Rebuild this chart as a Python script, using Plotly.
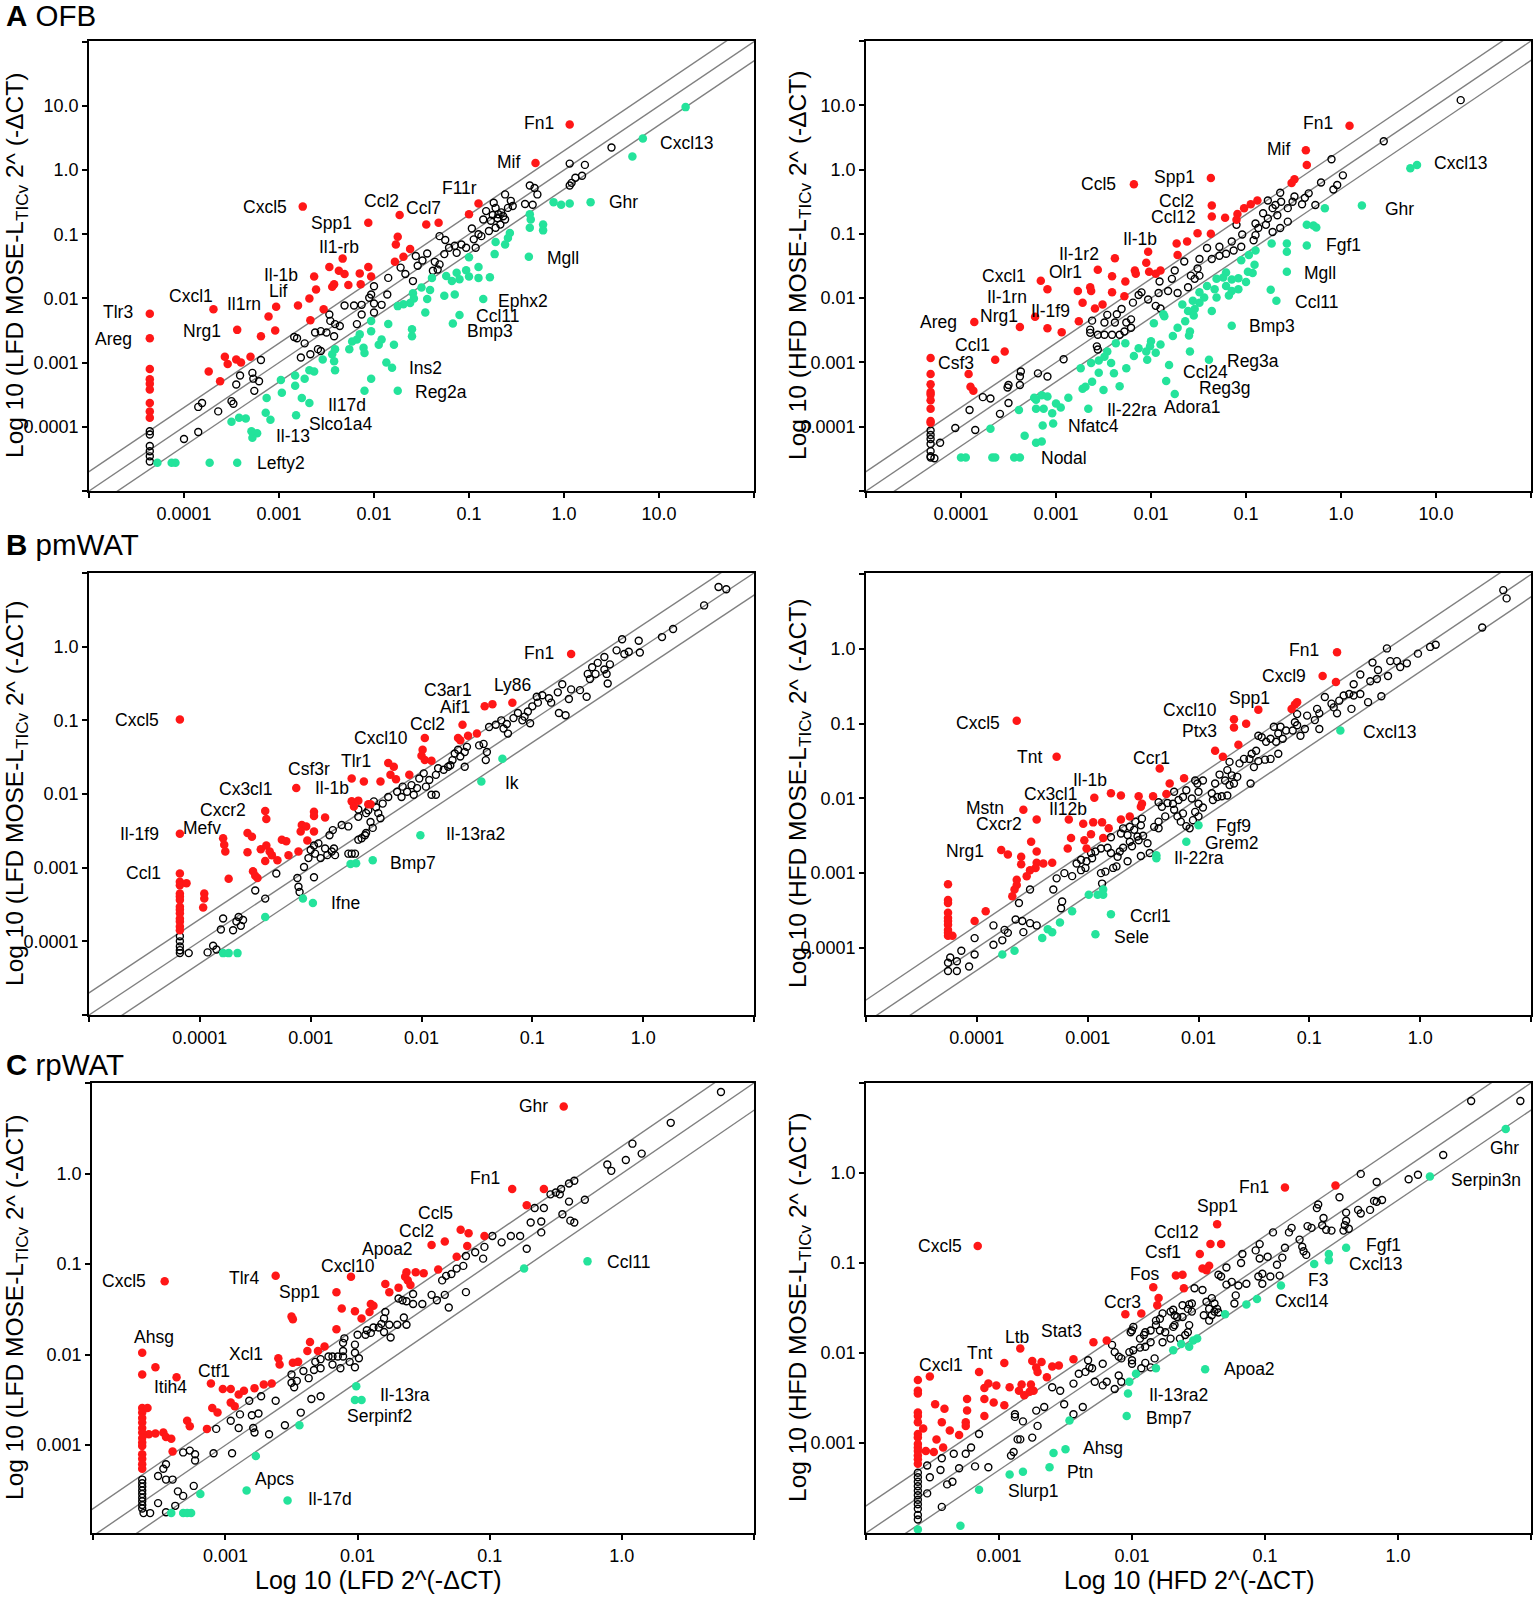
import math
import plotly.graph_objects as go

W, H = 1536, 1598
RED = "#ff1717"
GREEN = "#24e39b"
LINE = "#808080"
FONT = "Liberation Sans, Arial, sans-serif"

# ---- data: log10 values (x = LFD/HFD 2^-dCT, y = MOSE-L TICv) ----
# panel A left: OFB, LFD
a_lfd_up = [(0.06, 0.71), (-0.30, 0.11), (-0.90, -0.52), (-1.00, -0.69), (-1.32, -0.82), (-1.45, -0.85),
            (-1.73, -0.70), (-2.06, -0.82), (-2.75, -0.57), (-2.33, -1.38), (-1.75, -1.04), (-1.77, -1.16),
            (-1.62, -1.23), (-1.69, -1.35), (-1.78, -1.43), (-2.06, -1.51), (-2.15, -1.61), (-2.03, -1.66),
            (-2.14, -1.78), (-2.27, -1.79), (-2.31, -1.62), (-2.37, -1.57), (-2.47, -1.51), (-2.42, -1.78),
            (-2.44, -1.82), (-2.63, -1.66), (-2.61, -1.86), (-2.68, -2.00), (-2.80, -2.11), (-3.03, -2.13),
            (-3.11, -2.28), (-3.04, -2.50), (-3.19, -2.59), (-2.67, -2.34), (-2.53, -2.17), (-3.69, -2.17),
            (-3.44, -2.49), (-4.36, -2.24), (-4.36, -2.62), (-4.36, -3.10), (-4.36, -3.26), (-4.36, -3.33),
            (-4.36, -3.42), (-4.36, -3.63), (-4.36, -3.76), (-4.36, -3.86), (-3.57, -2.91), (-3.54, -3.02),
            (-3.45, -2.95), (-3.40, -3.00), (-3.30, -2.91), (-3.74, -3.14), (-3.62, -3.29)]
a_lfd_ns = [(-4.36, -4.07), (-4.36, -4.12), (-4.36, -4.30), (-4.36, -4.38), (-4.36, -4.46), (-4.36, -4.54),
            (-4.00, -4.19), (-3.85, -4.08), (-3.85, -3.69), (-3.81, -3.63), (-3.64, -3.76), (-3.50, -3.60),
            (-3.48, -3.64), (-3.45, -3.34), (-3.41, -3.20), (-3.28, -3.16), (-3.27, -3.25), (-3.21, -3.29),
            (-3.26, -3.44), (-3.19, -2.96), (-2.84, -2.60), (-2.81, -2.62), (-2.73, -2.70), (-2.77, -2.92),
            (-2.67, -2.87), (-2.59, -2.79), (-2.56, -2.82), (-2.62, -2.53), (-2.56, -2.51), (-2.50, -2.53),
            (-2.46, -2.35), (-2.41, -2.40), (-2.47, -2.25), (-2.36, -2.43), (-2.42, -2.59), (-2.31, -2.11),
            (-2.21, -2.11), (-2.13, -2.10), (-2.00, -2.08), (-1.92, -2.10), (-2.18, -2.40), (-2.13, -2.25),
            (-2.00, -2.22), (-2.05, -1.99), (-2.00, -1.81), (-2.03, -1.94), (-1.86, -1.94), (-1.85, -1.68),
            (-1.72, -1.52), (-1.67, -1.62), (-1.59, -1.73), (-1.54, -1.49), (-1.49, -1.41), (-1.44, -1.30),
            (-1.56, -1.34), (-1.36, -1.43), (-1.31, -1.47), (-1.33, -1.55), (-1.38, -1.57), (-1.31, -1.03),
            (-1.25, -1.09), (-1.26, -1.31), (-1.21, -1.21), (-1.15, -1.18), (-1.13, -1.29), (-1.08, -1.16),
            (-1.03, -1.21), (-0.97, -0.91), (-0.90, -1.00), (-0.95, -1.08), (-0.87, -1.03), (-0.93, -1.21),
            (-0.85, -0.77), (-0.82, -0.64), (-0.77, -0.79), (-0.72, -0.59), (-0.69, -0.69), (-0.74, -0.51),
            (-0.62, -0.38), (-0.59, -0.59), (-0.62, -0.77), (-0.56, -0.48), (-0.54, -0.56), (-0.66, -0.66),
            (-0.70, -0.75), (-0.64, -0.72), (-0.75, -0.70), (-0.41, -0.53), (-0.36, -0.24), (-0.33, -0.54),
            (-0.28, -0.38), (-0.31, -0.28), (-0.79, -0.95), (-0.72, -0.90), (-0.67, -0.85), (0.06, 0.10),
            (0.08, -0.20), (0.06, -0.24), (0.12, -0.12), (0.19, -0.09), (0.22, 0.08), (0.50, 0.35)]
a_lfd_down = [(1.28, 0.98), (0.83, 0.49), (0.72, 0.21), (0.28, -0.50), (0.06, -0.52), (-0.03, -0.54),
              (-0.11, -0.50), (-0.36, -0.69), (-0.35, -0.77), (-0.36, -0.90), (-0.22, -0.85), (-0.22, -0.94),
              (-0.57, -0.98), (-0.59, -1.06), (-0.72, -1.12), (-0.62, -1.16), (-0.73, -1.31), (-0.37, -1.35),
              (-1.00, -1.36), (-0.90, -1.51), (-1.03, -1.56), (-1.13, -1.60), (-1.00, -1.66), (-0.90, -1.68),
              (-0.78, -1.67), (-1.18, -1.73), (-1.10, -1.70), (-1.24, -1.65), (-1.39, -1.68), (-1.50, -1.83),
              (-1.41, -1.87), (-1.59, -1.92), (-1.26, -1.96), (-1.15, -1.94), (-1.44, -2.01), (-1.58, -2.00),
              (-1.62, -2.07), (-1.69, -2.09), (-1.75, -2.12), (-0.85, -2.01), (-1.10, -2.26), (-1.17, -2.39),
              (-1.46, -2.22), (-1.60, -2.48), (-1.60, -2.59), (-1.85, -2.40), (-2.03, -2.51), (-2.03, -2.35),
              (-1.95, -2.72), (-1.92, -2.64), (-1.79, -2.72), (-2.15, -2.56), (-2.18, -2.64), (-2.23, -2.67),
              (-2.26, -2.79), (-2.11, -2.77), (-2.10, -2.85), (-2.41, -2.79), (-2.44, -2.87), (-2.42, -2.98),
              (-2.41, -3.12), (-2.54, -2.95), (-1.81, -3.08), (-1.87, -3.00), (-1.75, -3.44), (-2.10, -3.44),
              (-2.03, -3.25), (-2.68, -3.12), (-2.63, -3.14), (-2.73, -3.25), (-2.83, -3.20), (-2.83, -3.36),
              (-2.98, -3.27), (-2.97, -3.47), (-3.13, -3.55), (-2.68, -3.63), (-2.76, -3.55), (-2.82, -3.82),
              (-3.14, -3.78), (-3.09, -3.89), (-3.35, -3.87), (-3.42, -3.86), (-3.50, -3.92), (-3.23, -4.10),
              (-3.28, -4.17), (-3.29, -4.07), (-4.28, -4.56), (-4.13, -4.56), (-4.09, -4.56), (-3.73, -4.56),
              (-3.44, -4.56)]
a_lfd_labels = [("Fn1", 0.06, 0.71, "right", -7, 1), ("Cxcl13", 0.83, 0.49, "left", 8, -4),
                ("Mif", -0.30, 0.11, "right", -7, 1), ("Ghr", 0.28, -0.50, "left", 9, 0),
                ("F11r", -0.90, -0.52, "right", 7, 15), ("Ccl7", -1.32, -0.82, "right", 11, 15),
                ("Ccl2", -1.73, -0.70, "right", 8, 14), ("Spp1", -2.06, -0.82, "right", -7, 0),
                ("Cxcl5", -2.75, -0.57, "right", -7, 0), ("Il1-rb", -2.33, -1.38, "center", -4, 12),
                ("Il-1b", -2.63, -1.66, "right", -7, 2), ("Lif", -2.80, -2.11, "right", -1, 14),
                ("Il1rn", -3.03, -2.13, "right", -6, 3), ("Cxcl1", -3.69, -2.17, "right", 9, 13),
                ("Nrg1", -3.44, -2.49, "right", -7, -1), ("Tlr3", -4.36, -2.24, "right", -8, 2),
                ("Areg", -4.36, -2.62, "right", -9, -1), ("Ephx2", -0.85, -2.01, "left", 6, -2),
                ("Ccl11", -1.10, -2.26, "left", 7, -1), ("Bmp3", -1.17, -2.39, "left", 5, -8),
                ("Mgll", -0.37, -1.35, "left", 9, -1), ("Ins2", -1.81, -3.08, "left", 8, 0),
                ("Reg2a", -1.75, -3.44, "left", 8, -1), ("Il17d", -2.68, -3.63, "left", 10, -2),
                ("Slco1a4", -2.82, -3.82, "left", 4, -9), ("Il-13", -3.23, -4.10, "left", 10, -3),
                ("Lefty2", -3.44, -4.56, "left", 11, 0)]

# panel A right: OFB, HFD
a_hfd_up = [(0.09, 0.68), (-0.37, 0.30), (-0.36, 0.07), (-2.18, -0.23), (-1.37, -0.13), (-1.36, -0.56),
            (-1.36, -0.73), (-1.22, -0.75), (-1.09, -0.69), (-1.10, -0.78), (-0.52, -0.21), (-0.49, -0.15),
            (-1.02, -0.60), (-0.95, -0.54), (-0.88, -0.48), (-1.51, -0.99), (-1.37, -1.00), (-1.62, -1.12),
            (-1.73, -1.15), (-1.72, -1.33), (-2.03, -1.28), (-2.05, -1.45), (-2.02, -1.59), (-1.90, -1.57),
            (-1.95, -1.62), (-2.38, -1.38), (-2.56, -1.56), (-2.41, -1.66), (-2.27, -1.74), (-2.17, -1.57),
            (-2.16, -1.62), (-3.16, -1.73), (-3.09, -1.86), (-2.77, -1.89), (-2.64, -1.83), (-2.63, -1.89),
            (-2.41, -1.91), (-2.28, -1.97), (-2.72, -2.07), (-2.51, -2.10), (-2.59, -2.16), (-3.22, -2.29),
            (-3.38, -2.45), (-2.76, -2.36), (-3.09, -2.47), (-2.94, -2.53), (-3.86, -2.37), (-3.54, -2.83),
            (-3.64, -2.96), (-3.92, -3.18), (-3.90, -3.38), (-3.87, -3.44), (-4.32, -2.93), (-4.32, -3.18),
            (-4.32, -3.34), (-4.32, -3.46), (-4.32, -3.50), (-4.32, -3.59), (-4.32, -3.72), (-4.32, -3.91),
            (-4.32, -3.94)]
a_hfd_ns = [(1.26, 1.08), (0.45, 0.44), (-0.10, 0.16), (0.02, -0.09), (-0.04, -0.24), (-0.08, -0.31),
            (-0.21, -0.20), (-0.34, -0.37), (-0.38, -0.44), (-0.41, -0.54), (-0.27, -0.55), (-0.49, -0.42),
            (-0.51, -0.50), (-0.56, -0.60), (-0.64, -0.36), (-0.63, -0.50), (-0.72, -0.60), (-0.67, -0.71),
            (-0.77, -0.76), (-0.82, -0.68), (-0.79, -0.86), (-0.87, -0.91), (-0.56, -0.81), (-0.72, -0.97),
            (-0.64, -0.91), (-0.77, -0.48), (-0.69, -0.55), (-0.90, -0.84), (-0.90, -1.02), (-0.92, -1.10),
            (-1.04, -1.01), (-1.10, -0.86), (-1.15, -1.12), (-1.05, -1.20), (-1.13, -1.26), (-1.21, -1.31),
            (-1.28, -1.20), (-1.28, -1.34), (-1.41, -1.22), (-1.36, -1.39), (-1.49, -1.39), (-1.51, -1.54),
            (-1.58, -1.65), (-1.54, -1.70), (-1.49, -1.65), (-1.65, -1.43), (-1.75, -1.57), (-1.78, -1.70),
            (-1.61, -1.83), (-1.72, -1.92), (-1.91, -1.74), (-1.92, -1.92), (-1.82, -1.89), (-1.95, -2.12),
            (-1.90, -2.16), (-2.13, -1.95), (-2.10, -1.91), (-2.03, -2.02), (-2.19, -2.07), (-2.31, -2.17),
            (-2.46, -2.26), (-2.36, -2.25), (-2.49, -2.38), (-2.38, -2.38), (-2.26, -2.38), (-2.21, -2.33),
            (-2.62, -2.35), (-2.64, -2.49), (-2.64, -2.54), (-2.56, -2.57), (-2.49, -2.57), (-2.41, -2.57),
            (-2.33, -2.57), (-2.28, -2.52), (-2.21, -2.46), (-2.57, -2.75), (-2.56, -2.80), (-2.92, -2.95),
            (-3.19, -3.17), (-3.09, -3.22), (-3.37, -3.14), (-3.38, -3.22), (-3.38, -3.35), (-3.50, -3.35),
            (-3.51, -3.39), (-3.77, -3.54), (-3.69, -3.56), (-3.91, -3.74), (-3.50, -3.63), (-3.59, -3.80),
            (-4.06, -4.02), (-3.85, -4.05), (-4.22, -4.25), (-4.32, -4.06), (-4.32, -4.13), (-4.32, -4.19),
            (-4.32, -4.27), (-4.32, -4.38), (-4.32, -4.46), (-4.32, -4.48), (-4.28, -4.49)]
a_hfd_down = [(0.73, 0.02), (0.80, 0.07), (0.22, -0.56), (-0.17, -0.60), (-0.36, -0.86), (-0.29, -0.87),
              (-0.26, -0.90), (-0.36, -1.18), (-0.57, -1.15), (-0.57, -1.28), (-0.73, -1.15), (-0.57, -1.59),
              (-0.68, -2.04), (-0.74, -1.87), (-0.90, -1.26), (-0.91, -1.48), (-0.97, -1.33), (-1.05, -1.41),
              (-0.98, -1.59), (-0.93, -1.61), (-1.00, -1.75), (-1.21, -1.60), (-1.15, -1.71), (-1.08, -1.69),
              (-1.24, -1.68), (-1.31, -1.70), (-1.21, -1.81), (-1.33, -1.86), (-1.15, -1.89), (-1.08, -1.86),
              (-1.18, -1.96), (-1.41, -1.81), (-1.49, -1.91), (-1.44, -1.99), (-1.31, -1.99), (-1.49, -2.07),
              (-1.56, -2.04), (-1.54, -2.17), (-1.61, -2.20), (-1.64, -2.36), (-1.67, -2.10), (-1.55, -2.27),
              (-1.36, -2.20), (-1.15, -2.43), (-1.87, -2.25), (-1.86, -2.28), (-1.97, -2.39), (-1.72, -2.46),
              (-1.59, -2.52), (-1.60, -2.58), (-1.77, -2.59), (-1.90, -2.72), (-2.00, -2.67), (-2.01, -2.75),
              (-2.05, -2.83), (-2.04, -2.96), (-1.95, -2.85), (-1.39, -2.96), (-1.59, -2.83), (-1.81, -3.04),
              (-1.84, -3.29), (-1.75, -3.49), (-2.13, -2.78), (-2.18, -2.90), (-2.26, -3.09), (-2.37, -2.70),
              (-2.27, -2.70), (-2.46, -2.83), (-2.49, -2.91), (-2.42, -3.01), (-2.39, -3.17), (-2.55, -2.97),
              (-2.55, -3.16), (-2.63, -3.01), (-2.62, -3.30), (-2.50, -3.43), (-2.33, -3.37), (-2.72, -3.41),
              (-2.69, -3.38), (-2.74, -3.09), (-2.66, -3.72), (-2.87, -3.55), (-2.95, -3.70), (-3.00, -3.64),
              (-3.09, -3.53), (-3.15, -3.51), (-3.21, -3.58), (-3.23, -3.55), (-3.13, -3.72), (-3.04, -3.79),
              (-3.21, -3.72), (-3.39, -3.74), (-3.03, -3.95), (-3.14, -3.98), (-3.69, -4.03), (-3.33, -4.14),
              (-3.21, -4.25), (-3.15, -4.23), (-4.00, -4.48), (-3.95, -4.48), (-3.67, -4.48), (-3.64, -4.48),
              (-3.44, -4.48), (-3.38, -4.48)]
a_hfd_labels = [("Fn1", 0.09, 0.68, "right", -8, 3), ("Mif", -0.37, 0.30, "right", -7, 1),
                ("Cxcl13", 0.80, 0.07, "left", 8, 2), ("Ghr", 0.22, -0.56, "left", 14, -3),
                ("Ccl5", -2.18, -0.23, "right", -9, 0), ("Spp1", -1.37, -0.13, "right", -7, 1),
                ("Ccl2", -1.36, -0.56, "right", -9, 5), ("Ccl12", -1.36, -0.73, "right", -7, -1),
                ("Fgf1", -0.36, -1.18, "left", 10, 0), ("Il-1b", -2.03, -1.28, "center", -8, 13),
                ("Il-1r2", -2.38, -1.38, "right", -7, 4), ("Olr1", -2.56, -1.56, "right", -7, -2),
                ("Mgll", -0.57, -1.59, "left", 8, -1), ("Cxcl1", -3.16, -1.73, "right", -6, 5),
                ("Il-1rn", -3.09, -1.86, "right", -11, -8), ("Ccl11", -0.68, -2.04, "left", 10, -1),
                ("Nrg1", -3.22, -2.29, "right", -8, 1), ("Il-1f9", -2.76, -2.36, "right", 0, 10),
                ("Areg", -3.86, -2.37, "right", -8, 0), ("Bmp3", -1.15, -2.43, "left", 8, 0),
                ("Ccl1", -3.54, -2.83, "right", -6, 6), ("Csf3", -3.64, -2.96, "right", -12, -3),
                ("Reg3a", -1.39, -2.96, "left", 9, -1), ("Ccl24", -1.81, -3.04, "left", 5, -7),
                ("Reg3g", -1.84, -3.29, "left", 24, -7), ("Adora1", -1.75, -3.49, "center", 17, -13),
                ("Il-22ra", -2.66, -3.72, "left", 10, -1), ("Nfatc4", -3.03, -3.95, "left", 6, -3),
                ("Nodal", -3.38, -4.48, "left", 12, 0)]

# panel B left: pmWAT, LFD
b_lfd_up = [(-0.65, -0.10), (-1.18, -0.76), (-1.36, -0.78), (-1.43, -0.81), (-1.63, -1.06), (-1.58, -1.21),
            (-1.50, -1.18), (-1.67, -1.24), (-1.65, -1.27), (-1.97, -1.24), (-1.99, -1.40), (-2.00, -1.48),
            (-1.97, -1.54), (-1.91, -1.55), (-2.30, -1.58), (-2.25, -1.63), (-2.28, -1.74), (-2.23, -1.80),
            (-2.11, -1.74), (-2.63, -1.79), (-2.52, -1.83), (-2.37, -1.83), (-3.13, -1.92), (-2.63, -2.10),
            (-2.61, -2.17), (-2.57, -2.09), (-2.48, -2.14), (-2.46, -2.14), (-3.41, -2.23), (-3.40, -2.34),
            (-2.97, -2.24), (-2.97, -2.30), (-2.87, -2.32), (-3.08, -2.42), (-3.04, -2.44), (-3.09, -2.51),
            (-2.97, -2.51), (-3.03, -2.63), (-3.11, -2.78), (-3.20, -2.83), (-4.18, -2.54), (-3.79, -2.60),
            (-3.78, -2.69), (-3.77, -2.78), (-3.57, -2.53), (-3.53, -2.58), (-3.57, -2.79), (-3.45, -2.75),
            (-3.40, -2.70), (-3.37, -2.78), (-3.35, -2.83), (-3.30, -2.90), (-3.41, -2.91), (-3.26, -2.62),
            (-3.22, -2.64), (-3.52, -3.05), (-3.50, -3.11), (-3.48, -3.14), (-3.74, -3.15), (-4.18, -0.99),
            (-4.18, -3.08), (-4.18, -3.19), (-4.18, -3.24), (-4.18, -3.35), (-4.18, -3.39), (-4.18, -3.44),
            (-4.18, -3.53), (-4.18, -3.57), (-4.18, -3.62), (-4.18, -3.69), (-4.18, -3.73), (-4.18, -3.80),
            (-4.18, -3.85), (-4.12, -3.21), (-3.96, -3.35), (-3.96, -3.42), (-3.97, -3.54)]
b_lfd_ns = [(0.68, 0.81), (0.75, 0.78), (0.55, 0.56), (0.27, 0.24), (0.17, 0.13), (-0.19, 0.10), (-0.04, 0.08),
            (-0.03, -0.08), (-0.24, -0.05), (-0.17, -0.10), (-0.13, -0.07), (-0.35, -0.14), (-0.41, -0.22),
            (-0.46, -0.28), (-0.30, -0.24), (-0.35, -0.31), (-0.43, -0.37), (-0.50, -0.37), (-0.48, -0.44),
            (-0.33, -0.37), (-0.32, -0.50), (-0.51, -0.68), (-0.57, -0.59), (-0.65, -0.58), (-0.73, -0.51),
            (-0.77, -0.62), (-0.67, -0.71), (-0.85, -0.70), (-0.91, -0.66), (-0.96, -0.68), (-0.95, -0.76),
            (-0.83, -0.76), (-0.76, -0.90), (-0.70, -0.93), (-1.00, -0.81), (-1.04, -0.88), (-1.07, -0.95),
            (-1.09, -1.00), (-1.02, -1.04), (-1.13, -0.90), (-1.17, -0.97), (-1.23, -1.05), (-1.26, -1.11),
            (-1.28, -1.00), (-1.22, -1.18), (-1.33, -1.06), (-1.39, -1.09), (-1.44, -1.32), (-1.41, -1.43),
            (-1.42, -1.54), (-1.48, -1.34), (-1.59, -1.36), (-1.61, -1.43), (-1.65, -1.49), (-1.70, -1.45),
            (-1.72, -1.54), (-1.76, -1.63), (-1.80, -1.67), (-1.67, -1.40), (-1.61, -1.63), (-1.74, -1.61),
            (-1.85, -1.65), (-1.87, -1.74), (-1.93, -1.81), (-1.98, -1.72), (-2.02, -1.79), (-1.96, -1.90),
            (-1.91, -2.01), (-1.87, -2.01), (-2.09, -1.88), (-2.13, -1.97), (-2.18, -2.04), (-2.22, -1.97),
            (-2.07, -2.01), (-2.17, -1.90), (-2.04, -1.92), (-2.30, -2.04), (-2.35, -2.13), (-2.41, -2.18),
            (-2.43, -2.10), (-2.39, -2.26), (-2.37, -2.33), (-2.46, -2.38), (-2.50, -2.26), (-2.48, -2.22),
            (-2.57, -2.21), (-2.57, -2.31), (-2.57, -2.62), (-2.54, -2.60), (-2.50, -2.53), (-2.66, -2.44),
            (-2.72, -2.42), (-2.80, -2.49), (-2.83, -2.56), (-2.44, -2.46), (-2.51, -2.56), (-2.87, -2.74),
            (-2.79, -2.74), (-2.81, -2.78), (-2.78, -2.83), (-2.85, -2.83), (-2.91, -2.87), (-2.96, -2.81),
            (-3.00, -2.76), (-2.97, -2.70), (-2.93, -2.67), (-3.02, -2.87), (-3.06, -2.99), (-2.66, -2.81),
            (-2.63, -2.81), (-2.60, -2.81), (-3.31, -3.08), (-3.12, -3.14), (-3.11, -3.26), (-3.10, -3.33),
            (-2.97, -3.13), (-3.41, -3.42), (-3.50, -3.31), (-3.79, -3.69), (-3.81, -3.84), (-3.70, -3.85),
            (-3.67, -3.73), (-3.65, -3.67), (-3.63, -3.79), (-3.61, -3.71), (-3.88, -4.06), (-3.93, -4.15),
            (-3.85, -4.11), (-4.10, -4.16), (-4.18, -3.93), (-4.18, -4.00), (-4.18, -4.07), (-4.18, -4.12),
            (-4.18, -4.16)]
b_lfd_down = [(-1.27, -1.52), (-1.46, -1.83), (-2.01, -2.56), (-2.44, -2.90), (-2.59, -2.94), (-2.64, -2.95),
              (-2.98, -3.48), (-3.07, -3.42), (-3.41, -3.67), (-3.79, -4.16), (-3.74, -4.16), (-3.66, -4.16)]
b_lfd_labels = [("Fn1", -0.65, -0.10, "right", -8, 1), ("Ly86", -1.18, -0.76, "center", 0, 18),
                ("C3ar1", -1.36, -0.78, "right", -11, 14), ("Aif1", -1.43, -0.81, "right", -6, -1),
                ("Ccl2", -1.63, -1.06, "right", -9, 1), ("Cxcl10", -1.97, -1.24, "right", -8, 0),
                ("Tlr1", -2.30, -1.58, "right", -8, 2), ("Csf3r", -2.63, -1.79, "right", -13, 10),
                ("Il-1b", -2.52, -1.83, "right", -6, -7), ("Cx3cl1", -3.13, -1.92, "right", -14, -1),
                ("Cxcr2", -3.41, -2.23, "right", -10, 1), ("Il-1f9", -4.18, -2.54, "right", -12, 0),
                ("Mefv", -3.79, -2.60, "right", 7, 10), ("Cxcl5", -4.18, -0.99, "right", -12, 0),
                ("Ccl1", -4.18, -3.08, "right", -10, 1), ("Ik", -1.46, -1.83, "left", 15, -2),
                ("Il-13ra2", -2.01, -2.56, "left", 17, 1), ("Bmp7", -2.44, -2.90, "left", 8, -3),
                ("Ifne", -2.98, -3.48, "left", 9, 0)]

# panel B right: pmWAT, HFD
b_hfd_up = [(-0.75, -0.04), (-0.88, -0.36), (-0.76, -0.44), (-1.46, -0.81), (-1.11, -0.71), (-1.13, -0.74),
            (-1.16, -0.80), (-1.68, -0.94), (-1.68, -1.05), (-1.57, -1.00), (-1.64, -1.28), (-1.85, -1.36),
            (-1.78, -1.44), (-3.64, -0.96), (-3.28, -1.44), (-2.35, -1.60), (-2.13, -1.73), (-2.26, -1.80),
            (-2.29, -1.94), (-2.41, -1.97), (-2.54, -1.97), (-2.70, -1.96), (-2.79, -1.93), (-2.94, -1.99),
            (-2.51, -2.07), (-2.52, -2.11), (-3.58, -2.15), (-3.46, -2.28), (-3.17, -2.28), (-3.04, -2.34),
            (-2.95, -2.32), (-2.87, -2.32), (-2.81, -2.40), (-2.70, -2.28), (-2.62, -2.24), (-2.97, -2.48),
            (-3.15, -2.53), (-3.03, -2.56), (-2.86, -2.53), (-3.18, -2.67), (-3.01, -2.67), (-3.51, -2.58),
            (-3.46, -2.71), (-3.78, -2.69), (-3.72, -2.75), (-3.60, -2.78), (-3.60, -2.88), (-3.46, -2.86),
            (-3.47, -2.93), (-3.52, -2.96), (-3.32, -2.86), (-3.40, -2.87), (-3.55, -3.04), (-3.64, -3.09),
            (-3.64, -3.16), (-3.66, -3.22), (-3.68, -3.31), (-3.92, -3.51), (-4.02, -3.64), (-4.26, -3.15),
            (-4.26, -3.36), (-4.26, -3.40), (-4.26, -3.53), (-4.26, -3.60), (-4.26, -3.64), (-4.26, -3.69),
            (-4.26, -3.76), (-4.26, -3.80), (-4.26, -3.84), (-4.22, -3.84)]
b_hfd_ns = [(0.75, 0.79), (0.78, 0.68), (0.56, 0.29), (0.14, 0.06), (0.09, 0.03), (-0.02, -0.06), (-0.30, 0.01),
            (-0.43, -0.18), (-0.27, -0.16), (-0.21, -0.16), (-0.18, -0.24), (-0.12, -0.19), (-0.38, -0.28),
            (-0.29, -0.36), (-0.35, -0.63), (-0.54, -0.34), (-0.45, -0.43), (-0.39, -0.40), (-0.47, -0.71),
            (-0.60, -0.47), (-0.69, -0.62), (-0.64, -0.60), (-0.60, -0.62), (-0.54, -0.60), (-0.73, -0.69),
            (-0.80, -0.73), (-0.78, -0.78), (-0.75, -0.86), (-0.62, -0.80), (-0.86, -0.64), (-0.93, -0.80),
            (-0.91, -0.86), (-0.95, -0.95), (-1.02, -0.89), (-1.04, -1.07), (-1.11, -1.02), (-1.13, -0.98),
            (-1.11, -0.87), (-1.08, -1.16), (-1.15, -1.09), (-0.91, -1.07), (-1.21, -1.09), (-1.26, -1.04),
            (-1.24, -1.20), (-1.28, -1.13), (-1.32, -1.04), (-1.30, -1.24), (-1.35, -1.20), (-1.39, -1.24),
            (-1.43, -1.18), (-1.46, -1.16), (-1.28, -1.40), (-1.35, -1.47), (-1.40, -1.48), (-1.46, -1.50),
            (-1.50, -1.58), (-1.53, -1.80), (-1.48, -1.36), (-1.52, -1.40), (-1.59, -1.47), (-1.63, -1.53),
            (-1.54, -1.47), (-1.72, -1.51), (-1.74, -1.62), (-1.70, -1.69), (-1.65, -1.71), (-1.68, -1.80),
            (-1.72, -1.82), (-1.81, -1.68), (-1.76, -1.76), (-1.85, -1.80), (-1.88, -1.93), (-1.83, -1.98),
            (-1.79, -1.97), (-1.74, -1.96), (-1.87, -2.02), (-1.96, -1.76), (-2.03, -1.76), (-2.01, -1.80),
            (-2.00, -1.91), (-2.06, -2.00), (-2.00, -2.07), (-1.96, -2.12), (-2.03, -2.18), (-2.00, -2.24),
            (-2.05, -2.29), (-2.11, -1.89), (-2.14, -1.98), (-2.18, -2.02), (-2.22, -1.91), (-2.23, -2.07),
            (-2.14, -2.20), (-2.19, -2.24), (-2.16, -2.31), (-2.11, -2.37), (-2.08, -2.40), (-2.28, -2.06),
            (-2.33, -2.11), (-2.36, -2.05), (-2.22, -2.15), (-2.30, -2.24), (-2.36, -2.31), (-2.40, -2.38),
            (-2.36, -2.40), (-2.51, -2.27), (-2.57, -2.31), (-2.52, -2.36), (-2.62, -2.38), (-2.58, -2.42),
            (-2.68, -2.40), (-2.70, -2.47), (-2.64, -2.49), (-2.55, -2.51), (-2.50, -2.50), (-2.46, -2.60),
            (-2.54, -2.56), (-2.62, -2.58), (-2.60, -2.64), (-2.68, -2.66), (-2.71, -2.71), (-2.73, -2.78),
            (-2.64, -2.84), (-2.52, -2.77), (-2.44, -2.73), (-2.79, -2.52), (-2.82, -2.66), (-2.79, -2.73),
            (-2.77, -2.93), (-2.74, -2.91), (-2.84, -2.98), (-2.88, -3.00), (-2.87, -3.14), (-2.88, -2.67),
            (-2.93, -2.71), (-2.97, -2.73), (-2.96, -2.80), (-3.01, -2.84), (-3.06, -2.82), (-3.10, -2.87),
            (-3.02, -2.93), (-3.06, -2.96), (-3.14, -3.04), (-3.21, -3.00), (-3.28, -3.07), (-3.31, -3.22),
            (-3.23, -3.38), (-3.24, -3.47), (-3.52, -3.22), (-3.62, -3.40), (-3.65, -3.62), (-3.59, -3.64),
            (-3.52, -3.67), (-3.46, -3.70), (-3.58, -3.79), (-3.72, -3.80), (-3.75, -3.76), (-3.85, -3.70),
            (-3.85, -3.96), (-3.77, -3.90), (-4.02, -3.87), (-4.02, -4.09), (-4.14, -4.04), (-4.18, -4.18),
            (-4.24, -4.13), (-4.26, -4.20), (-4.26, -4.31), (-4.18, -4.31), (-4.07, -4.25)]
b_hfd_down = [(-0.72, -1.09), (-2.00, -2.36), (-2.11, -2.58), (-2.38, -2.76), (-2.38, -2.80), (-2.86, -3.22),
              (-2.86, -3.29), (-2.91, -3.29), (-2.99, -3.29), (-2.79, -3.55), (-2.93, -3.82), (-3.14, -3.51),
              (-3.25, -3.66), (-3.36, -3.75), (-3.32, -3.79), (-3.41, -3.87), (-3.66, -4.04), (-3.77, -4.09)]
b_hfd_labels = [("Fn1", -0.75, -0.04, "right", -9, 2), ("Cxcl9", -0.88, -0.36, "right", -8, 0),
                ("Spp1", -1.46, -0.81, "center", -9, 12), ("Cxcl10", -1.68, -0.94, "right", -8, 9),
                ("Ptx3", -1.68, -1.05, "right", -8, -3), ("Cxcl13", -0.72, -1.09, "left", 14, -1),
                ("Cxcl5", -3.64, -0.96, "right", -8, -2), ("Tnt", -3.28, -1.44, "right", -6, 0),
                ("Ccr1", -2.35, -1.60, "center", -8, 11), ("Il-1b", -2.79, -1.93, "right", 5, 13),
                ("Cx3cl1", -2.94, -1.99, "right", -7, 4), ("Il12b", -3.17, -2.28, "center", -1, 10),
                ("Mstn", -3.58, -2.15, "right", -10, 2), ("Cxcr2", -3.46, -2.28, "right", -6, -5),
                ("Nrg1", -3.78, -2.69, "right", -8, -1), ("Fgf9", -2.00, -2.36, "left", 8, -1),
                ("Grem2", -2.11, -2.58, "left", 10, -1), ("Il-22ra", -2.38, -2.80, "left", 9, 0),
                ("Ccrl1", -2.79, -3.55, "left", 10, -2), ("Sele", -2.93, -3.82, "left", 10, -3)]

# panel C left: rpWAT, LFD
c_lfd_up = [(-0.44, 0.74), (-0.83, -0.17), (-0.59, -0.17), (-0.72, -0.35), (-1.22, -0.62), (-1.16, -0.66),
            (-1.34, -0.75), (-1.44, -0.79), (-1.17, -0.80), (-1.04, -0.69), (-1.25, -0.92), (-1.39, -1.06),
            (-1.56, -1.09), (-1.50, -1.10), (-1.63, -1.09), (-1.64, -1.14), (-1.62, -1.18), (-1.60, -1.23),
            (-1.69, -1.26), (-1.79, -1.22), (-1.76, -1.31), (-2.05, -1.14), (-2.62, -1.13), (-2.16, -1.31),
            (-3.46, -1.19), (-1.90, -1.44), (-1.88, -1.46), (-2.02, -1.52), (-1.91, -1.53), (-2.12, -1.49),
            (-1.97, -1.60), (-2.16, -1.72), (-2.50, -1.58), (-2.49, -1.61), (-2.36, -1.86), (-2.38, -1.96),
            (-2.30, -1.96), (-2.25, -1.91), (-2.60, -2.04), (-2.59, -2.11), (-2.49, -2.09), (-2.45, -2.08),
            (-3.63, -1.98), (-3.63, -2.22), (-3.53, -2.14), (-3.37, -2.25), (-3.11, -2.32), (-3.02, -2.38),
            (-2.96, -2.38), (-2.90, -2.44), (-2.86, -2.40), (-2.78, -2.37), (-2.71, -2.33), (-2.65, -2.32),
            (-3.10, -2.59), (-3.06, -2.64), (-2.96, -2.53), (-2.93, -2.57), (-3.29, -2.73), (-3.27, -2.79),
            (-3.14, -2.82), (-3.58, -2.88), (-3.53, -2.87), (-3.47, -2.86), (-3.45, -2.91), (-3.41, -2.93),
            (-3.40, -3.07), (-3.63, -2.59), (-3.63, -2.64), (-3.63, -2.70), (-3.63, -2.75), (-3.63, -2.81),
            (-3.63, -2.86), (-3.63, -2.92), (-3.63, -2.97), (-3.63, -3.01), (-3.63, -3.10), (-3.63, -3.15),
            (-3.63, -3.21), (-3.63, -3.26), (-3.59, -2.59)]
c_lfd_ns = [(0.75, 0.90), (0.37, 0.56), (0.08, 0.33), (0.15, 0.22), (0.03, 0.15), (-0.11, 0.10), (-0.08, 0.03),
            (-0.28, -0.29), (-0.36, -0.54), (-0.39, -0.52), (-0.45, -0.45), (-0.36, -0.08), (-0.40, -0.11),
            (-0.46, -0.17), (-0.50, -0.21), (-0.54, -0.23), (-0.40, -0.31), (-0.47, -0.23), (-0.59, -0.38),
            (-0.66, -0.38), (-0.69, -0.54), (-0.61, -0.53), (-0.61, -0.65), (-0.77, -0.69), (-0.84, -0.69),
            (-0.72, -0.83), (-0.98, -0.69), (-0.91, -0.76), (-1.04, -0.81), (-1.05, -0.94), (-1.11, -0.87),
            (-1.18, -0.91), (-1.20, -1.02), (-1.25, -1.05), (-1.29, -1.11), (-1.33, -1.13), (-1.36, -1.18),
            (-1.18, -1.31), (-1.34, -1.34), (-1.31, -1.48), (-1.40, -1.40), (-1.44, -1.34), (-1.51, -1.44),
            (-1.58, -1.33), (-1.58, -1.44), (-1.63, -1.41), (-1.66, -1.40), (-1.69, -1.38), (-1.63, -1.67),
            (-1.65, -1.59), (-1.70, -1.67), (-1.76, -1.67), (-1.82, -1.66), (-1.80, -1.60), (-1.79, -1.53),
            (-1.75, -1.81), (-1.84, -1.70), (-1.88, -1.70), (-1.90, -1.76), (-1.93, -1.73), (-1.94, -1.78),
            (-2.00, -1.78), (-1.80, -1.75), (-2.10, -1.82), (-2.11, -1.87), (-2.02, -1.89), (-2.11, -1.96),
            (-2.02, -1.98), (-2.11, -2.02), (-1.99, -2.04), (-2.06, -2.08), (-2.02, -2.14), (-2.13, -2.15),
            (-2.19, -2.11), (-2.15, -2.02), (-2.19, -2.02), (-2.22, -2.02), (-2.28, -2.05), (-2.32, -2.08),
            (-2.28, -2.15), (-2.33, -2.17), (-2.37, -2.26), (-2.41, -2.18), (-2.46, -2.29), (-2.50, -2.22),
            (-2.50, -2.31), (-2.48, -2.36), (-2.28, -2.46), (-2.35, -2.49), (-2.43, -2.64), (-2.55, -2.78),
            (-2.67, -2.88), (-2.62, -2.51), (-2.73, -2.46), (-2.82, -2.51), (-2.75, -2.65), (-2.80, -2.67),
            (-2.89, -2.66), (-2.79, -2.81), (-2.78, -2.86), (-2.96, -2.73), (-2.90, -2.81), (-3.07, -2.82),
            (-3.32, -3.08), (-3.27, -3.06), (-3.23, -3.10), (-3.23, -3.17), (-3.09, -3.09), (-2.95, -3.09),
            (-3.45, -3.21), (-3.47, -3.26), (-3.51, -3.34), (-3.45, -3.38), (-3.40, -3.38), (-3.24, -3.45),
            (-3.36, -3.51), (-3.32, -3.56), (-3.51, -3.64), (-3.45, -3.74), (-3.57, -3.75), (-3.62, -3.75),
            (-3.38, -3.67), (-3.63, -3.38), (-3.63, -3.42), (-3.63, -3.46), (-3.63, -3.50), (-3.63, -3.54),
            (-3.63, -3.58), (-3.63, -3.62), (-3.63, -3.66), (-3.63, -3.70)]
c_lfd_down = [(-0.26, -0.97), (-0.74, -1.05), (-2.01, -2.35), (-2.02, -2.50), (-1.97, -2.50), (-2.44, -2.78),
              (-2.77, -3.12), (-2.84, -3.50), (-2.53, -3.61), (-3.19, -3.54), (-3.41, -3.75), (-3.32, -3.75),
              (-3.29, -3.75), (-3.26, -3.75)]
c_lfd_labels = [("Ghr", -0.44, 0.74, "right", -7, 1), ("Fn1", -0.83, -0.17, "right", -3, 11),
                ("Ccl5", -1.22, -0.62, "right", 1, 17), ("Ccl2", -1.34, -0.75, "right", -2, 10),
                ("Apoa2", -1.44, -0.79, "right", -10, -4), ("Cxcl10", -2.05, -1.14, "center", -3, 11),
                ("Tlr4", -2.62, -1.13, "right", -8, -2), ("Spp1", -2.16, -1.31, "right", -7, 0),
                ("Cxcl5", -3.46, -1.19, "right", -10, 0), ("Ahsg", -3.63, -1.98, "center", 12, 16),
                ("Xcl1", -2.60, -2.04, "right", -6, 4), ("Ctf1", -3.11, -2.32, "center", 3, 13),
                ("Itih4", -3.37, -2.25, "center", -6, -10), ("Ccl11", -0.26, -0.97, "left", 10, -1),
                ("Il-13ra", -1.97, -2.50, "left", 9, 5), ("Serpinf2", -2.02, -2.50, "center", 25, -16),
                ("Apcs", -2.84, -3.50, "center", 28, 11), ("Il-17d", -2.53, -3.61, "left", 11, 1)]

# panel C right: rpWAT, HFD
c_hfd_up = [(-0.85, -0.16), (-0.47, -0.14), (-1.36, -0.57), (-1.41, -0.79), (-1.33, -0.79), (-1.49, -0.90),
            (-1.47, -1.06), (-1.42, -1.03), (-1.44, -1.08), (-1.67, -1.14), (-1.62, -1.13), (-1.61, -1.28),
            (-1.84, -1.27), (-3.16, -0.81), (-1.80, -1.39), (-1.81, -1.47), (-2.05, -1.57), (-1.93, -1.56),
            (-2.29, -1.88), (-2.19, -1.86), (-2.84, -1.95), (-2.96, -2.11), (-2.75, -2.09), (-2.68, -2.10),
            (-2.72, -2.16), (-2.71, -2.21), (-2.60, -2.15), (-2.55, -2.14), (-2.44, -2.07), (-2.64, -2.27),
            (-3.15, -2.21), (-3.52, -2.26), (-3.11, -2.39), (-3.08, -2.34), (-3.02, -2.36), (-2.92, -2.38),
            (-2.83, -2.35), (-2.76, -2.35), (-2.85, -2.42), (-2.81, -2.47), (-2.77, -2.43), (-2.74, -2.42),
            (-3.11, -2.51), (-3.04, -2.55), (-2.96, -2.58), (-3.24, -2.51), (-3.24, -2.64), (-3.11, -2.70),
            (-3.48, -2.57), (-3.41, -2.62), (-3.43, -2.77), (-3.37, -2.86), (-3.30, -2.91), (-3.25, -2.77),
            (-3.25, -2.81), (-3.57, -2.84), (-3.47, -2.96), (-3.42, -3.05), (-3.49, -3.10), (-3.55, -3.09),
            (-3.61, -2.30), (-3.61, -2.42), (-3.61, -2.45), (-3.61, -2.66), (-3.61, -2.70), (-3.61, -2.77),
            (-3.61, -2.90), (-3.61, -2.94), (-3.61, -3.01), (-3.61, -3.05), (-3.61, -3.09), (-3.61, -3.14),
            (-3.61, -3.18), (-3.61, -3.23)]
c_hfd_ns = [(0.55, 0.80), (0.92, 0.80), (0.34, 0.20), (-0.28, -0.01), (-0.16, -0.10), (0.08, -0.07), (0.15, -0.02),
            (-0.44, -0.27), (-0.60, -0.35), (-0.61, -0.39), (-0.56, -0.50), (-0.16, -0.32), (-0.12, -0.30),
            (-0.18, -0.31), (-0.21, -0.41), (-0.28, -0.45), (-0.30, -0.41), (-0.39, -0.44), (-0.39, -0.53),
            (-0.40, -0.58), (-0.41, -0.64), (-0.37, -0.62), (-0.50, -0.64), (-0.54, -0.63), (-0.57, -0.58),
            (-0.68, -0.59), (-0.65, -0.61), (-0.80, -0.61), (-0.82, -0.66), (-0.94, -0.66), (-0.74, -0.74),
            (-0.71, -0.87), (-0.69, -0.91), (-0.72, -0.82), (-0.85, -0.83), (-0.87, -0.94), (-0.91, -1.02),
            (-0.89, -1.14), (-0.96, -1.15), (-0.98, -0.93), (-1.04, -0.95), (-1.04, -0.79), (-1.07, -0.86),
            (-1.17, -0.90), (-1.18, -1.00), (-1.02, -1.12), (-1.05, -1.15), (-1.02, -1.23), (-1.14, -1.23),
            (-1.20, -1.25), (-1.25, -1.21), (-1.29, -1.24), (-1.29, -1.05), (-1.35, -1.13), (-1.33, -1.15),
            (-1.22, -1.36), (-1.23, -1.45), (-1.53, -1.28), (-1.47, -1.30), (-1.40, -1.39), (-1.38, -1.45),
            (-1.44, -1.43), (-1.42, -1.51), (-1.36, -1.51), (-1.38, -1.54), (-1.40, -1.58), (-1.46, -1.58),
            (-1.35, -1.55), (-1.55, -1.45), (-1.57, -1.46), (-1.62, -1.47), (-1.58, -1.51), (-1.55, -1.54),
            (-1.68, -1.58), (-1.69, -1.52), (-1.66, -1.60), (-1.62, -1.60), (-1.71, -1.54), (-1.42, -1.64),
            (-1.77, -1.56), (-1.79, -1.62), (-1.82, -1.64), (-1.82, -1.69), (-1.86, -1.75), (-1.79, -1.75),
            (-1.75, -1.77), (-1.77, -1.88), (-1.69, -1.71), (-1.68, -1.69), (-1.57, -1.69), (-1.58, -1.77),
            (-1.60, -1.80), (-1.64, -1.84), (-1.71, -1.84), (-1.90, -1.77), (-1.91, -1.80), (-1.94, -1.84),
            (-1.99, -1.71), (-2.00, -1.75), (-2.01, -1.77), (-1.86, -1.88), (-1.90, -1.93), (-1.94, -1.94),
            (-1.99, -1.97), (-2.15, -1.91), (-2.13, -1.99), (-2.10, -2.04), (-2.08, -2.06), (-2.02, -1.99),
            (-2.00, -2.08), (-2.00, -2.12), (-1.93, -2.17), (-1.90, -2.11), (-1.86, -2.16), (-1.83, -2.06),
            (-2.33, -2.08), (-2.32, -2.16), (-2.30, -2.17), (-2.35, -2.21), (-2.40, -2.23), (-2.22, -2.12),
            (-2.44, -2.34), (-2.28, -2.32), (-2.22, -2.36), (-2.19, -2.32), (-2.13, -2.40), (-2.08, -2.32),
            (-2.10, -2.25), (-2.60, -2.38), (-2.54, -2.42), (-2.51, -2.57), (-2.37, -2.60), (-2.44, -2.68),
            (-2.66, -2.60), (-2.72, -2.64), (-2.71, -2.81), (-2.88, -2.68), (-2.88, -2.71), (-2.82, -2.76),
            (-3.15, -2.90), (-3.21, -3.05), (-3.25, -3.12), (-3.34, -3.12), (-3.30, -3.28), (-3.35, -3.43),
            (-2.86, -2.96), (-2.84, -2.96), (-2.75, -2.94), (-2.89, -3.10), (-2.91, -3.14), (-3.18, -3.26),
            (-3.08, -3.27), (-3.43, -3.17), (-3.44, -3.30), (-3.54, -3.25), (-3.52, -3.38), (-3.39, -3.46),
            (-3.54, -3.56), (-3.43, -3.71), (-3.61, -3.33), (-3.61, -3.38), (-3.61, -3.43), (-3.61, -3.48),
            (-3.61, -3.53), (-3.61, -3.58), (-3.61, -3.63), (-3.61, -3.68), (-3.61, -3.73), (-3.61, -3.80),
            (-3.61, -3.85)]
c_hfd_down = [(0.81, 0.49), (0.24, -0.04), (-0.39, -0.83), (-0.52, -0.90), (-0.52, -0.97), (-0.63, -1.01),
              (-0.88, -1.25), (-1.06, -1.40), (-1.14, -1.46), (-1.30, -1.57), (-1.51, -1.84), (-1.54, -1.86),
              (-1.57, -1.93), (-1.63, -1.90), (-1.69, -1.97), (-1.45, -2.18), (-1.82, -2.17), (-1.97, -2.23),
              (-2.02, -2.32), (-2.03, -2.45), (-2.04, -2.70), (-2.47, -2.75), (-2.50, -3.07), (-2.59, -3.11),
              (-2.62, -3.27), (-2.82, -3.32), (-2.92, -3.35), (-3.15, -3.52), (-3.29, -3.92), (-3.61, -3.96)]
c_hfd_labels = [("Ghr", 0.81, 0.49, "center", -1, -19), ("Serpin3n", 0.24, -0.04, "left", 12, -3),
                ("Fn1", -0.85, -0.16, "right", -7, 0), ("Spp1", -1.36, -0.57, "center", 0, 18),
                ("Ccl12", -1.41, -0.79, "right", -2, 12), ("Csf1", -1.49, -0.90, "right", -10, 2),
                ("Fgf1", -0.39, -0.83, "left", 11, 3), ("Cxcl13", -0.52, -0.97, "left", 11, -4),
                ("F3", -0.63, -1.01, "center", 4, -16), ("Cxcl14", -0.88, -1.25, "center", 21, -15),
                ("Fos", -1.67, -1.14, "right", -8, 2), ("Ccr3", -2.05, -1.57, "center", -3, 12),
                ("Stat3", -2.29, -1.88, "right", -2, 11), ("Ltb", -2.84, -1.95, "center", -3, 12),
                ("Tnt", -2.96, -2.11, "right", -3, 10), ("Cxcl1", -3.15, -2.21, "right", -7, 7),
                ("Cxcl5", -3.16, -0.81, "right", -7, 0), ("Apoa2", -1.45, -2.18, "left", 10, 0),
                ("Il-13ra2", -2.03, -2.45, "left", 12, -1), ("Bmp7", -2.04, -2.70, "left", 10, -2),
                ("Ahsg", -2.50, -3.07, "left", 8, 1), ("Ptn", -2.62, -3.27, "left", 8, -5),
                ("Slurp1", -3.15, -3.52, "left", 20, -1)]

TICK_TEXT = {-4: "0.0001", -3: "0.001", -2: "0.01", -1: "0.1", 0: "1.0", 1: "10.0"}
FOLD = 2.0  # fold-change guide lines

panels = [
    # (frame px: left, right, top, bottom), up, ns, down, labels, xrange, yrange, xticks, yticks
    ((89, 754, 41, 491), a_lfd_up, a_lfd_ns, a_lfd_down, a_lfd_labels, [-5, 2], [-5, 2.01], range(-5, 3), range(-5, 3)),
    ((866, 1531, 41, 491), a_hfd_up, a_hfd_ns, a_hfd_down, a_hfd_labels, [-5, 2], [-5, 2], range(-5, 3), range(-5, 3)),
    ((89, 754, 573, 1015), b_lfd_up, b_lfd_ns, b_lfd_down, b_lfd_labels, [-5, 1], [-5, 1], range(-5, 2), range(-5, 2)),
    ((866, 1531, 573, 1015), b_hfd_up, b_hfd_ns, b_hfd_down, b_hfd_labels, [-5, 1], [-4.9, 1.02], range(-5, 2), range(-4, 2)),
    ((92, 754, 1083, 1533), c_lfd_up, c_lfd_ns, c_lfd_down, c_lfd_labels, [-4.01, 1], [-3.97, 1], range(-4, 2), range(-3, 2)),
    ((866, 1531, 1083, 1533), c_hfd_up, c_hfd_ns, c_hfd_down, c_hfd_labels, [-4, 1], [-4, 1], range(-4, 2), range(-3, 2)),
]


def px(x):
    return x / W


def py(y):
    return 1 - y / H


def tick_labels(vals, rng):
    # no label on the ticks that sit at the frame corners
    return [TICK_TEXT.get(v, "") if rng[0] + 0.05 < v < rng[1] - 0.05 else " " for v in vals]


fig = go.Figure()
annotations = []
layout_axes = {}
d = math.log10(FOLD)

for i, (box, up, ns, down, labels, xr, yr, xt, yt) in enumerate(panels):
    n = "" if i == 0 else str(i + 1)
    xa, ya = "x" + n, "y" + n
    left, right, top, bottom = box
    tickcfg = dict(ticks="outside", ticklen=5, tickwidth=1.5, tickcolor="black", automargin=False,
                   showgrid=False, zeroline=False, showline=True, linecolor="black",
                   linewidth=1.8, mirror=True, tickfont=dict(family=FONT, size=18, color="black"))
    layout_axes["xaxis" + n] = dict(domain=[px(left), px(right)], range=xr, anchor=ya,
                                    tickvals=list(xt), ticktext=tick_labels(xt, xr), **tickcfg)
    layout_axes["yaxis" + n] = dict(domain=[py(bottom), py(top)], range=yr, anchor=xa,
                                    tickvals=list(yt), ticktext=tick_labels(yt, yr), **tickcfg)

    # y = 2x, y = x, y = x/2 guide lines
    gx = [-6, 3]
    for off in (d, 0, -d):
        fig.add_trace(go.Scatter(x=gx, y=[v + off for v in gx], mode="lines", xaxis=xa, yaxis=ya,
                                 line=dict(color=LINE, width=1.4), hoverinfo="skip", showlegend=False))

    fig.add_trace(go.Scatter(x=[p[0] for p in ns], y=[p[1] for p in ns], mode="markers", xaxis=xa, yaxis=ya,
                             marker=dict(symbol="circle-open", size=7, color="black", line=dict(width=1.4)),
                             showlegend=False))
    fig.add_trace(go.Scatter(x=[p[0] for p in down], y=[p[1] for p in down], mode="markers", xaxis=xa, yaxis=ya,
                             marker=dict(size=8.5, color=GREEN), showlegend=False))
    fig.add_trace(go.Scatter(x=[p[0] for p in up], y=[p[1] for p in up], mode="markers", xaxis=xa, yaxis=ya,
                             marker=dict(size=8.5, color=RED), showlegend=False))

    for text, lx, ly, anchor, dx, dy in labels:
        shift = {"right": -7, "left": 7, "center": 0}[anchor]
        annotations.append(dict(x=lx, y=ly, xref=xa, yref=ya, text=text, showarrow=False,
                                xanchor=anchor, yanchor="middle", xshift=shift + dx, yshift=dy,
                                font=dict(family=FONT, size=17.5, color="black")))

    # y-axis title
    grp = "LFD" if left < 500 else "HFD"
    ytitle = "Log 10 (%s MOSE-L<sub>TICv</sub> 2^ (-\u0394CT)" % grp
    annotations.append(dict(x=px(16 if left < 500 else 799), y=py((top + bottom) / 2), xref="paper",
                            yref="paper", text=ytitle, textangle=-90, showarrow=False, xanchor="center",
                            yanchor="middle", font=dict(family=FONT, size=24.5, color="black")))

# x-axis titles (bottom row only)
for grp, xpx in [("LFD", 378), ("HFD", 1189)]:
    annotations.append(dict(x=px(xpx), y=py(1580), xref="paper", yref="paper",
                            text="Log 10 (%s 2^(-\u0394CT)" % grp, showarrow=False,
                            xanchor="center", yanchor="middle", font=dict(family=FONT, size=25, color="black")))

# panel headings
for letter, name, ypx in [("A", "OFB", 15), ("B", "pmWAT", 545), ("C", "rpWAT", 1064)]:
    annotations.append(dict(x=px(4), y=py(ypx), xref="paper", yref="paper",
                            text="<b>%s</b> %s" % (letter, name), showarrow=False, xanchor="left",
                            yanchor="middle", font=dict(family=FONT, size=29.5, color="black")))

fig.update_layout(width=W, height=H, margin=dict(l=0, r=0, t=0, b=0, autoexpand=False),
                  plot_bgcolor="white", paper_bgcolor="white", showlegend=False,
                  annotations=annotations, **layout_axes)

# the page body's default 8px margin would push the figure past the window edge
fig.write_html("out.html", config={"displayModeBar": False},
               post_script="document.body.style.margin = '0px';")
